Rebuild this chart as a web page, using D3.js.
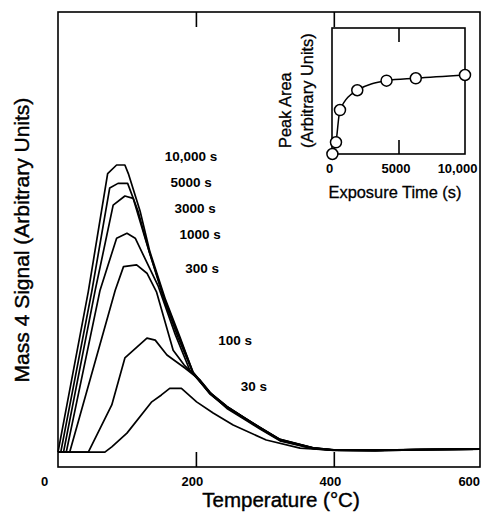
<!DOCTYPE html>
<html>
<head>
<meta charset="utf-8">
<script src="https://cdn.jsdelivr.net/npm/d3@7"></script>
<style>
  body { margin: 0; background: #fff; }
  svg { font-family: "Liberation Sans", Arial, sans-serif; }
</style>
</head>
<body>
<div id="chart"></div>
<script>
// Mass 4 TPD traces, [temperature degC, signal a.u.], one per exposure
var s10000 = [[0,0],[44,56],[72,97],[85,100],[97,100],[102,97],[119,84],[133,70],[156,53],[177,40],[196,27.5],[220,20.6],[245,15.7],[268,12.2],[293,8.4],[322,4.2],[370,1.4],[400,0.7],[460,0.6],[520,0.9],[612,1.0]];
var s5000 = [[0,0],[4,0],[49,56],[75,92],[87,93.6],[101,93.6],[116,84],[132,70],[155,53],[176,40],[196,27.8],[220,20.8],[245,15.9],[268,12.3],[293,8.6],[322,4.4],[370,1.5],[400,0.8],[460,0.7],[520,0.9],[612,1.0]];
var s3000 = [[0,0],[8,0],[54,56.4],[80,86],[97,89.2],[109,88.4],[127,74],[154,53],[174,40],[195,28],[220,20.8],[245,15.9],[268,12.3],[293,8.6],[322,4.4],[370,1.5],[400,0.8],[460,0.7],[520,0.9],[612,1.0]];
var s1000 = [[0,0],[12,0],[61,56.4],[85,74.5],[100,76.2],[112,74.5],[145,58],[170,41],[191,28.6],[220,20.5],[245,15.6],[268,12.1],[293,8.5],[322,4.3],[370,1.4],[400,0.7],[460,0.6],[520,0.9],[612,1.0]];
var s300 = [[0,0],[17,0],[83,56.4],[95,64.6],[114,65.2],[129,62.3],[143,55.7],[167,35.5],[183,30.3],[201,26.1],[220,20.3],[245,15.5],[268,12],[293,8.3],[322,4.1],[370,1.3],[400,0.7],[460,0.6],[520,0.9],[612,1.0]];
var s100 = [[0,0],[44,0],[78,16.4],[97,32.8],[129,39.7],[141,39],[158,33.8],[184,29.3],[206,25.1],[225,19.5],[245,15.2],[268,11.8],[293,8],[322,3.9],[370,1.2],[400,0.6],[460,0.5],[520,0.8],[612,1.0]];
var s30 = [[0,0],[68,0],[78,1.8],[100,6.6],[136,17.5],[150,19.9],[162,22.2],[179,22.2],[201,17.5],[225,13.6],[254,9.4],[302,4.2],[351,1.4],[398,0.7],[460,0.5],[520,0.8],[612,1.0]];

var series = [s10000, s5000, s3000, s1000, s300, s100, s30];
var seriesNames = ["10,000 s", "5000 s", "3000 s", "1000 s", "300 s", "100 s", "30 s"];
// where each name sits, in data units
var labelAt = [[193,103],[193,94],[199,85],[206,76],[209,64],[257,39],[284,23]];

var tempTicks = [0, 200, 400, 600];

// inset: peak area vs exposure time
var exposure = [30, 300, 600, 1900, 4100, 6300, 10000];
var peakArea = [0, 0.093, 0.349, 0.506, 0.582, 0.601, 0.627];
var exposureTicks = [0, 5000, 10000];
var exposureTickLabels = ["0", "5000", "10,000"];

var W = 482, H = 514;
var frame = { left: 58, right: 480, top: 12, bottom: 467 };
var inset = { left: 332, right: 465, top: 28, bottom: 154 };

var svg = d3.select("#chart").append("svg")
  .attr("width", W)
  .attr("height", H);

var x = d3.scaleLinear().domain([0, 612]).range([frame.left, frame.right]);
var y = d3.scaleLinear().domain([-5.2, 153.3]).range([frame.bottom, frame.top]);

//main frame
svg.append("rect")
  .attr("x", frame.left).attr("y", frame.top)
  .attr("width", frame.right - frame.left)
  .attr("height", frame.bottom - frame.top)
  .style("fill", "none").style("stroke", "#000").style("stroke-width", 1.6);

var xAxis = svg.append("g")
  .attr("transform", "translate(0," + frame.bottom + ")")
  .call(d3.axisBottom(x).tickValues(tempTicks).tickSizeInner(-15).tickSizeOuter(0).tickPadding(10));
xAxis.select(".domain").remove();
xAxis.selectAll(".tick line")
  .filter(function (d) { return d === 0 || d === 600; }).remove();
xAxis.selectAll(".tick line").style("stroke-width", 1.6);
xAxis.selectAll("text")
  .attr("dx", function (d) { return d === 0 ? -14 : (d === 600 ? -3 : -4); })
  .style("font-size", "13px").style("font-weight", "bold").style("fill", "#000");

var xTop = svg.append("g")
  .attr("transform", "translate(0," + frame.top + ")")
  .call(d3.axisTop(x).tickValues([200, 400]).tickSize(-15).tickFormat(""));
xTop.select(".domain").remove();
xTop.selectAll(".tick line").style("stroke-width", 1.6);

var line = d3.line()
  .x(function (d) { return x(d[0]); })
  .y(function (d) { return y(d[1]); });

svg.selectAll(".trace")
  .data(series)
  .enter().append("path")
  .attr("class", "trace")
  .attr("d", line)
  .style("fill", "none")
  .style("stroke", "#000")
  .style("stroke-width", 1.7)
  .style("stroke-linejoin", "round");

svg.selectAll(".trace-label")
  .data(seriesNames)
  .enter().append("text")
  .attr("class", "trace-label")
  .attr("x", function (d, i) { return x(labelAt[i][0]); })
  .attr("y", function (d, i) { return y(labelAt[i][1]); })
  .attr("dy", "0.36em")
  .style("text-anchor", "middle")
  .style("font-size", "13.5px")
  .style("font-weight", "bold")
  .text(function (d) { return d; });

// axis titles (a hairline stroke to get the heavier print look)
svg.append("text")
  .attr("x", 281).attr("y", 507)
  .style("text-anchor", "middle")
  .style("font-size", "20.5px")
  .style("stroke", "#000").style("stroke-width", 0.4)
  .text("Temperature (\u00B0C)");

svg.append("text")
  .attr("transform", "translate(29,240) rotate(-90)")
  .style("text-anchor", "middle")
  .style("font-size", "21px")
  .style("stroke", "#000").style("stroke-width", 0.4)
  .text("Mass 4 Signal (Arbitrary Units)");

//////////////////////
// inset
//////////////////////
var ix = d3.scaleLinear().domain([0, 10000]).range([inset.left, inset.right]);
var iy = d3.scaleLinear().domain([0, 1]).range([inset.bottom, inset.top]);

svg.append("rect")
  .attr("x", inset.left).attr("y", inset.top)
  .attr("width", inset.right - inset.left)
  .attr("height", inset.bottom - inset.top)
  .style("fill", "#fff").style("stroke", "#000").style("stroke-width", 1.6);

var ixAxis = svg.append("g")
  .attr("transform", "translate(0," + inset.bottom + ")")
  .call(d3.axisBottom(ix).tickValues(exposureTicks).tickSizeInner(-14).tickSizeOuter(0).tickPadding(10)
    .tickFormat(function (d, i) { return exposureTickLabels[i]; }));
ixAxis.select(".domain").remove();
ixAxis.selectAll(".tick line")
  .filter(function (d) { return d === 0 || d === 10000; }).remove();
ixAxis.selectAll(".tick line").style("stroke-width", 1.6);
ixAxis.selectAll("text")
  .attr("dx", function (d) { return d === 10000 ? -8 : -3; })
  .style("font-size", "13px").style("font-weight", "bold").style("fill", "#000");

var ixTop = svg.append("g")
  .attr("transform", "translate(0," + inset.top + ")")
  .call(d3.axisTop(ix).tickValues([5000]).tickSize(-14).tickFormat(""));
ixTop.select(".domain").remove();
ixTop.selectAll(".tick line").style("stroke-width", 1.6);

var insetPts = exposure.map(function (t, i) { return [t, peakArea[i]]; });

svg.append("path")
  .datum(insetPts)
  .attr("d", d3.line()
    .curve(d3.curveMonotoneX)
    .x(function (d) { return ix(d[0]); })
    .y(function (d) { return iy(d[1]); }))
  .style("fill", "none").style("stroke", "#000").style("stroke-width", 1.5);

svg.selectAll(".pt")
  .data(insetPts)
  .enter().append("circle")
  .attr("class", "pt")
  .attr("cx", function (d) { return ix(d[0]); })
  .attr("cy", function (d) { return iy(d[1]); })
  .attr("r", 5.5)
  .style("fill", "#fff").style("stroke", "#000").style("stroke-width", 1.5);

svg.append("text")
  .attr("x", 395).attr("y", 198)
  .style("text-anchor", "middle")
  .style("font-size", "16.4px")
  .style("stroke", "#000").style("stroke-width", 0.3)
  .text("Exposure Time (s)");

svg.append("text")
  .attr("transform", "translate(291,148) rotate(-90)")
  .style("font-size", "16.4px")
  .style("stroke", "#000").style("stroke-width", 0.3)
  .text("Peak Area");
svg.append("text")
  .attr("transform", "translate(313,148) rotate(-90)")
  .style("font-size", "16.4px")
  .style("stroke", "#000").style("stroke-width", 0.3)
  .text("(Arbitrary Units)");
</script>
</body>
</html>
